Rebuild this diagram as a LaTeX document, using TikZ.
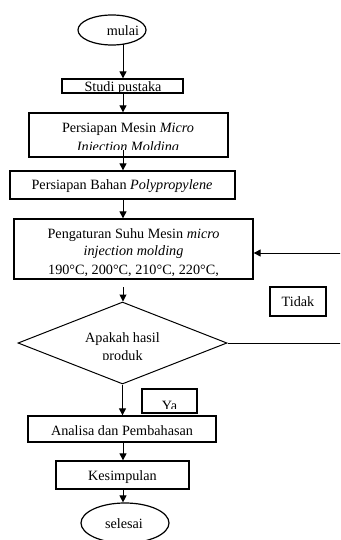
\documentclass[tikz,border=0pt]{standalone}
\usepackage{fontspec}
\setmainfont{Liberation Serif}
\usetikzlibrary{arrows.meta,shapes.geometric}
\begin{document}
\begin{tikzpicture}[x=1pt,y=-1pt,
  box/.style={draw,line width=1.3pt,inner sep=0pt,rectangle},
  oval/.style={draw,line width=1.2pt,ellipse,inner sep=0pt},
  arr/.style={line width=1pt,-{Triangle[length=7pt,width=7pt]}},
  ln/.style={line width=1pt},
  lbl/.style={font=\fontsize{14.2}{17}\selectfont,inner sep=0pt,anchor=base}]
\clip (0,0) rectangle (340,540);
% start
\node[oval,minimum width=68pt,minimum height=30pt] (mulai) at (112,30) {};
\node[lbl] (tmulai) at (123,36) {mulai};
\coordinate (ax) at (123,0);
\coordinate (m0) at (123,44.5);
% studi pustaka
\node[box,minimum width=121pt,minimum height=14pt] (studi) at (122.5,86) {};
\begin{scope}
\clip (studi.north west) rectangle (studi.south east);
\node[lbl] (tstudi) at (123,91.5) {Studi pustaka};
\end{scope}
% persiapan mesin
\node[box,minimum width=199pt,minimum height=44pt] (mesin) at (128.5,135) {};
\node[lbl] (tmesin1) at (128,133) {Persiapan Mesin \textit{Micro}};
\begin{scope}
\clip (mesin.north west) rectangle (mesin.east |- 0,150);
\node[lbl] (tmesin2) at (128,152) {\textit{Injection Molding}};
\end{scope}
% persiapan bahan
\node[box,minimum width=225pt,minimum height=28pt] (bahan) at (122.5,185) {};
\node[lbl] (tbahan) at (122,189.5) {Persiapan Bahan \textit{Polypropylene}};
% pengaturan suhu
\node[box,minimum width=239pt,minimum height=60pt] (peng) at (133.5,249) {};
\node[lbl] (tpeng1) at (133.5,238) {Pengaturan Suhu Mesin \textit{micro}};
\node[lbl] (tpeng2) at (133.5,255.5) {\textit{injection molding}};
\begin{scope}
\clip (peng.north west) rectangle (peng.east |- 0,275.5);
\node[lbl] (tpeng3) at (133.5,274) {190°C, 200°C, 210°C, 220°C,};
\end{scope}
% decision
\node[draw,diamond,line width=1pt,inner sep=0pt,aspect=2.55,
      minimum width=209pt,minimum height=82pt] (dec) at (122.5,343) {};
\node[lbl] (tdec1) at (122.5,342) {Apakah hasil};
\begin{scope}
\clip (dec.west) rectangle (dec.east |- 0,359);
\node[lbl] (tdec2) at (122.5,360) {produk};
\end{scope}
% tidak / ya labels
\node[box,minimum width=56pt,minimum height=29pt] (tidak) at (298,301.5) {};
\node[lbl] (ttidak) at (298,306) {Tidak};
\node[box,minimum width=55pt,minimum height=24pt] (ya) at (169.5,401) {};
\begin{scope}
\clip (ya.north west) rectangle (ya.east |- 0,408);
\node[lbl] (tya) at (169.5,410) {Ya};
\end{scope}
% analisa
\node[box,minimum width=188pt,minimum height=26pt] (analisa) at (122,429) {};
\node[lbl] (tanalisa) at (122,435) {Analisa dan Pembahasan};
% kesimpulan
\node[box,minimum width=133pt,minimum height=28pt] (kesim) at (122.5,475) {};
\node[lbl] (tkesim) at (122.5,480) {Kesimpulan};
% end
\node[oval,minimum width=88pt,minimum height=40pt] (selesai) at (125,523) {};
\node[lbl] (tselesai) at (124,528) {selesai};
% connectors
\coordinate (m1) at (123,150);
\coordinate (p1) at (123,287);
\coordinate (fbR) at (345,253);
\coordinate (noR) at (345,343);
\draw[arr] (m0) -- (m0 |- studi.north);
\draw[arr] (ax |- studi.south) -- (ax |- mesin.north);
\draw[arr] (m1) -- (m1 |- bahan.north);
\draw[arr] (ax |- bahan.south) -- (ax |- peng.north);
\draw[arr] (fbR) -- (fbR -| peng.east);
\draw[arr] (p1) -- (p1 |- dec.north);
\draw[ln] (dec.east) -- (noR);
\draw[arr] (dec.south) -- (dec.south |- analisa.north);
\draw[arr] (ax |- analisa.south) -- (ax |- kesim.north);
\draw[arr] (ax |- kesim.south) -- (ax |- selesai.north);
\end{tikzpicture}
\end{document}
